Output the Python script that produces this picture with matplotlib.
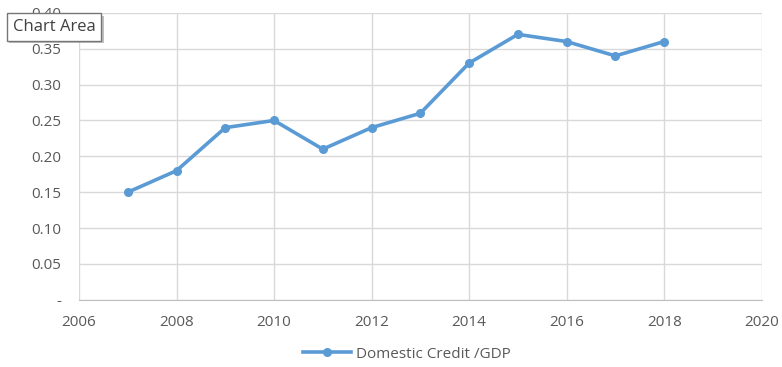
import matplotlib.pyplot as plt
import matplotlib.ticker as mticker
import matplotlib.patheffects as pe

years = [2007, 2008, 2009, 2010, 2011, 2012, 2013, 2014, 2015, 2016, 2017, 2018]
credit_gdp = [0.15, 0.18, 0.24, 0.25, 0.21, 0.24, 0.26, 0.33, 0.37, 0.36, 0.34, 0.36]
x_ticks = [2006, 2008, 2010, 2012, 2014, 2016, 2018, 2020]
y_ticks = [0, 0.05, 0.10, 0.15, 0.20, 0.25, 0.30, 0.35, 0.40]

plt.rcParams['font.family'] = ['Open Sans', 'DejaVu Sans']

fig = plt.figure(figsize=(7.82, 3.67), dpi=100)
ax = fig.add_axes([0.101, 0.183, 0.873, 0.782])

ax.plot(years, credit_gdp, color='#5B9BD5', lw=2.6, marker='o', ms=5.5,
        label='Domestic Credit /GDP', zorder=3)

ax.set_xlim(2006, 2020)
ax.set_ylim(0, 0.40)
ax.set_xticks(x_ticks)
ax.set_yticks(y_ticks)
ax.yaxis.set_major_formatter(mticker.FuncFormatter(
    lambda v, p: '-' if abs(v) < 1e-9 else '%.2f' % v))

ax.grid(True, color='#D9D9D9', lw=1)
ax.set_axisbelow(True)
for s in ['top', 'right', 'left']:
    ax.spines[s].set_visible(False)
ax.spines['bottom'].set_color('#BFBFBF')
ax.tick_params(length=0, colors='#595959', labelsize=11)
ax.tick_params(axis='x', pad=11)
ax.tick_params(axis='y', pad=13)

fig.legend(loc='center', bbox_to_anchor=(0.52, 0.035), frameon=False,
           fontsize=11, labelcolor='#595959', handlelength=3.2,
           handletextpad=0.3)

# the "Chart Area" tooltip (it sits over the 0.40 label, as in the source)
t = fig.text(0.016, 0.927, 'Chart Area', fontsize=12, color='#404040',
             va='center',
             bbox=dict(boxstyle='square,pad=0.35', fc='white', ec='#767676', lw=1))
t.get_bbox_patch().set_path_effects([pe.SimplePatchShadow(offset=(2, -2), alpha=0.35),
                                     pe.Normal()])

fig.savefig('out.png', dpi=100)
